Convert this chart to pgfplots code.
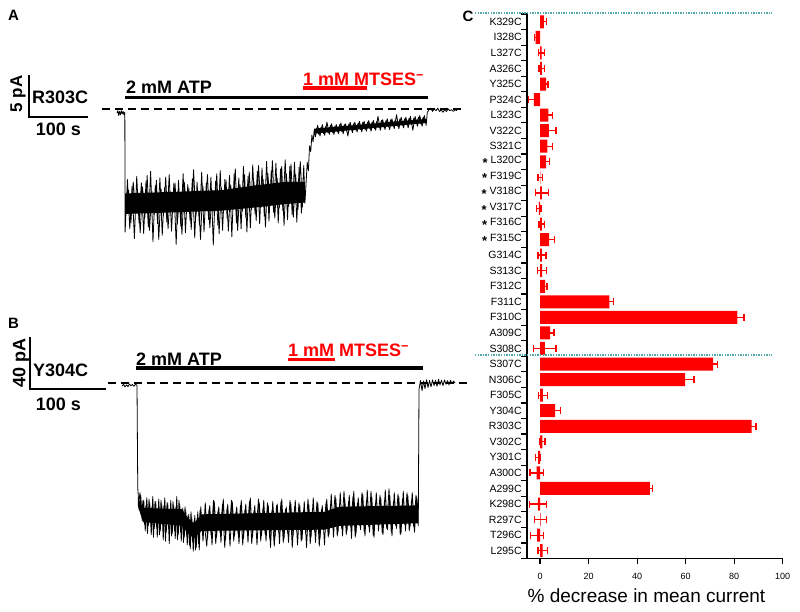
\documentclass[border=0pt]{standalone}
\usepackage{fontspec}
\setmainfont{Liberation Sans}
\usepackage{pgfplots}
\pgfplotsset{compat=1.18}
\usepackage{pgfplotstable}
\definecolor{tealdot}{RGB}{80,170,170}
\definecolor{pred}{RGB}{255,0,0}

% panel C data: pos (0 = bottom row L295C ... 34 = top row K329C), mean % decrease, error
\pgfplotstableread{
pos val err
34 1.6 1.1
33 -1.8 0.4
32 0.6 1.3
31 0.7 1.1
30 2.5 0.8
29 -2.5 2.3
28 3.4 1.6
27 3.6 3.0
26 3.0 2.2
25 2.5 1.4
24 0.1 1.0
23 0.75 2.7
22 -0.5 0.9
21 0.7 1.1
20 3.7 2.2
19 0.8 1.6
18 0.9 1.85
17 2.1 0.8
16 28.6 1.7
15 81.3 2.8
14 4.1 1.6
13 2.0 4.6
12 71.3 1.7
11 59.8 3.7
10 1.2 1.8
9 6.2 2.2
8 87.2 1.8
7 1.0 1.0
6 -0.8 1.1
5 -1.4 2.7
4 45.3 1.1
3 -0.9 3.5
2 0.2 2.5
1 -1.2 2.6
0 1.1 1.9
}\barsC

\newcommand{\lab}{\fontsize{18}{20}\selectfont\bfseries}
\newcommand{\pan}{\fontsize{15}{17}\selectfont\bfseries}
\newcommand{\sig}{{\fontsize{13}{13}\selectfont\bfseries\raisebox{-3.8pt}{*}}\hspace{3pt}}

\begin{document}
\begin{tikzpicture}[x=1pt,y=1pt]
\useasboundingbox (0,0) rectangle (800,611);

%================ Panel A (time in s, current in pA) ================
\begin{axis}[at={(0pt,351pt)}, anchor=south west, scale only axis,
  width=470pt, height=260pt, xmin=-201.72, xmax=608.62, ymin=-18.415, ymax=13.293,
  hide axis, clip=false]
\addplot[black, line width=1.5pt, dash pattern=on 8pt off 5pt] coordinates {(-25.9,0) (600,0)};
\addplot[black, line width=2.2pt, line cap=rect] coordinates {(-151.2,4.02) (-151.2,-0.98) (-51.2,-0.98)};
\addplot[black, line width=3.3pt] coordinates {(13.8,1.38) (536,1.38)};
\addplot[pred, line width=3.3pt] coordinates {(320.7,2.56) (431,2.56)};
\addplot[fill=black, draw=none] coordinates {(14,-10.3) (100,-10.1) (180,-9.9) (240,-9.3) (290,-8.9) (324,-8.9)
  (324,-11.4) (290,-11.6) (240,-12.0) (180,-12.4) (100,-12.6) (14,-12.8)} -- cycle;
\addplot[fill=black, draw=none] coordinates {(340,-2.4) (534,-1.2) (534,-1.7) (340,-3.0)} -- cycle;
\addplot[black, line width=0.8pt, line join=round] coordinates {
(0,-0.5) (1.5,-0.2) (3,-0.8) (4.5,-0.3) (6,-0.7) (7.5,-0.2) (9,-0.6) (10.5,-0.3) (12,-0.7) (13.5,-0.4)
(14,-15.0) (18,-8.6) (22,-14.6) (26,-9.4) (30,-15.8) (34,-8.2) (38,-13.9) (42,-9.0) (46,-15.2) (50,-8.8)
(54,-14.4) (58,-7.6) (62,-16.2) (66,-9.3) (70,-14.0) (74,-8.4) (78,-15.4) (82,-9.6) (86,-13.8) (90,-8.0)
(94,-14.9) (98,-9.1) (102,-16.5) (106,-8.7) (110,-14.3) (114,-7.9) (118,-15.1) (122,-9.2) (126,-13.6) (130,-8.5)
(134,-15.7) (138,-8.9) (142,-14.1) (146,-7.7) (150,-15.0) (154,-9.0) (158,-13.5) (162,-8.3) (166,-16.6) (170,-8.8)
(174,-14.2) (178,-7.5) (182,-14.8) (186,-8.6) (190,-13.4) (194,-8.1) (198,-15.6) (202,-7.9) (206,-13.9) (210,-8.4)
(214,-14.6) (218,-7.0) (222,-13.2) (226,-8.2) (230,-14.5) (234,-6.8) (238,-12.8) (242,-7.6) (246,-14.0) (250,-7.2)
(254,-13.1) (258,-6.4) (262,-13.7) (266,-7.5) (270,-12.6) (274,-6.6) (278,-13.9) (282,-7.3) (286,-12.4) (290,-6.2)
(294,-13.5) (298,-7.0) (302,-12.9) (306,-6.5) (310,-13.8) (314,-7.1) (318,-12.7) (322,-6.9) (324,-11.5)
(326,-9.0) (328,-6.5) (330,-7.5) (332,-4.5) (334,-5.2) (336,-3.2) (338,-4.0) (340,-2.6)
(342,-3.4) (346,-2.0) (350,-3.3) (354,-1.9) (358,-3.2) (362,-1.6) (366,-3.1) (370,-1.8) (374,-3.1) (378,-1.9)
(382,-3.0) (386,-1.7) (390,-3.0) (394,-1.8) (398,-3.3) (402,-1.6) (406,-2.9) (410,-1.6) (414,-2.8) (418,-1.5)
(422,-2.8) (426,-1.5) (430,-2.7) (434,-1.4) (438,-2.7) (442,-1.4) (446,-2.6) (450,-0.9) (454,-2.6) (458,-1.3)
(462,-2.5) (466,-1.2) (470,-2.5) (474,-1.2) (478,-2.4) (482,-0.7) (486,-2.4) (490,-1.0) (494,-2.3) (498,-1.0)
(502,-2.3) (506,-0.9) (510,-2.6) (514,-0.9) (518,-2.1) (522,-0.8) (526,-2.1) (530,-0.8) (533,-2.0)
(535,-0.4) (538,-0.1) (541,0.1) (544,-0.3) (547,0.0) (550,-0.2) (553,0.1) (556,-0.3) (559,-0.1) (562,-0.4)
(565,-0.1) (568,-0.3) (571,0.0) (574,-0.2) (577,-0.1) (580,-0.3) (583,-0.1) (586,-0.2)
};
\addplot[black, line width=0.8pt, line join=round] coordinates {
(16,-12.8) (20,-9.9) (24,-13.9) (28,-8.9) (32,-12.5) (36,-10.2) (40,-15.1) (44,-9.5) (48,-13.2) (52,-8.1)
(56,-14.8) (60,-10.0) (64,-12.9) (68,-8.7) (72,-15.9) (76,-9.8) (80,-13.0) (84,-8.3) (88,-14.6) (92,-10.1)
(96,-12.7) (100,-9.0) (104,-14.0) (108,-10.3) (112,-15.3) (116,-8.9) (120,-12.4) (124,-9.7) (128,-14.7) (132,-7.4)
(136,-13.1) (140,-10.0) (144,-15.9) (148,-9.4) (152,-12.2) (156,-8.0) (160,-14.5) (164,-9.9) (168,-13.0) (172,-7.9)
(176,-15.2) (180,-9.6) (184,-12.1) (188,-8.7) (192,-14.9) (196,-9.3) (200,-12.0) (204,-7.3) (208,-14.8) (212,-9.2)
(216,-12.5) (220,-8.0) (224,-15.0) (228,-7.7) (232,-12.3) (236,-8.9) (240,-13.6) (244,-6.9) (248,-12.0) (252,-8.6)
(256,-14.4) (260,-7.8) (264,-11.8) (268,-6.3) (272,-13.3) (276,-8.4) (280,-12.0) (284,-7.0) (288,-14.2) (292,-7.9)
(296,-11.9) (300,-6.7) (304,-13.2) (308,-8.0) (312,-12.3) (316,-6.4) (320,-12.0)
};
\addplot[black, line width=0.8pt, line join=round] coordinates {
(344,-2.3) (348,-3.1) (352,-2.2) (356,-3.0) (360,-2.1) (364,-2.9) (368,-2.0) (372,-2.9) (376,-2.1) (380,-2.8)
(384,-1.9) (388,-2.8) (392,-1.9) (396,-2.7) (400,-1.8) (404,-2.6) (408,-1.8) (412,-2.6) (416,-1.7) (420,-2.5)
(424,-1.6) (428,-2.5) (432,-1.6) (436,-2.4) (440,-1.6) (444,-2.4) (448,-1.5) (452,-2.3) (456,-1.4) (460,-2.2)
(464,-1.4) (468,-2.2) (472,-1.3) (476,-2.1) (480,-1.3) (484,-2.1) (488,-1.2) (492,-2.0) (496,-1.2) (500,-1.9)
(504,-1.1) (508,-1.9) (512,-1.1) (516,-1.8) (520,-1.0) (524,-1.8) (528,-1.0) (532,-1.7)
};
\end{axis}

%================ Panel B (time in s, current in pA) ================
\begin{axis}[at={(0pt,31pt)}, anchor=south west, scale only axis,
  width=470pt, height=290pt, xmin=-162.67, xmax=464, ymin=-154.5, ymax=72.94,
  hide axis, clip=false]
\addplot[black, line width=1.5pt, dash pattern=on 8pt off 5pt] coordinates {(-18.7,0) (460,0)};
\addplot[black, line width=2.2pt, line cap=rect] coordinates {(-122.7,35.3) (-122.7,-4.7) (-22.7,-4.7)};
\addplot[black, line width=3.3pt] coordinates {(18.7,11.76) (401.3,11.76)};
\addplot[pred, line width=3.3pt] coordinates {(221.3,18.4) (284,18.4)};
\addplot[fill=black, draw=none] coordinates {(21,-90) (28,-98) (80,-99) (88,-106) (96,-110) (106,-103) (270,-101) (290,-97) (395,-96)
  (395,-110) (290,-112) (270,-115) (106,-116) (96,-122) (88,-118) (80,-112) (28,-109) (21,-96)} -- cycle;
\addplot[black, line width=0.8pt, line join=round] coordinates {
(0,-2.5) (2,-1.0) (4,-3.0) (6,-1.5) (8,-2.8) (10,-0.8) (12,-2.2) (14,-1.2) (16,-2.6) (18,-1.0) (20,-1.8)
(21,-82) (23,-100) (25,-88) (27,-108) (29,-92) (31,-116) (33,-90) (35,-112) (37,-94) (39,-119)
(41,-89) (43,-114) (45,-93) (47,-121) (49,-91) (51,-116) (53,-95) (55,-123) (57,-90) (59,-117)
(61,-94) (63,-126) (65,-92) (67,-118) (69,-96) (71,-122) (73,-89) (75,-119) (77,-95) (79,-124)
(81,-98) (83,-121) (85,-100) (87,-127) (89,-103) (91,-130) (93,-105) (95,-132) (97,-104) (99,-129)
(101,-101) (103,-131) (105,-97) (108,-124) (111,-94) (114,-122) (117,-96) (120,-127) (123,-93) (126,-121)
(129,-97) (132,-125) (135,-91) (138,-123) (141,-95) (144,-128) (147,-93) (150,-120) (153,-97) (156,-126)
(159,-92) (162,-122) (165,-95) (168,-125) (171,-90) (174,-121) (177,-96) (180,-127) (183,-94) (186,-120)
(189,-92) (192,-124) (195,-96) (198,-129) (201,-93) (204,-121) (207,-95) (210,-126) (213,-91) (216,-122)
(219,-97) (222,-125) (225,-94) (228,-120) (231,-92) (234,-127) (237,-96) (240,-123) (243,-93) (246,-129)
(249,-95) (252,-121) (255,-90) (258,-125) (261,-94) (264,-122) (267,-96) (270,-127) (273,-91) (276,-119)
(279,-87) (282,-121) (285,-90) (288,-117) (291,-86) (294,-120) (297,-91) (300,-116) (303,-88) (306,-122)
(309,-85) (312,-118) (315,-90) (318,-115) (321,-87) (324,-120) (327,-84) (330,-117) (333,-89) (336,-121)
(339,-86) (342,-116) (345,-90) (348,-119) (351,-84) (354,-115) (357,-88) (360,-120) (363,-86) (366,-114)
(369,-89) (372,-118) (375,-85) (378,-116) (381,-88) (384,-113) (387,-86) (390,-117) (393,-89) (395,-112)
(396,-5) (398,2) (400,-6) (402,1.5) (404,-4.5) (406,2.5) (408,-3.5) (410,2) (412,-3) (414,2.5)
(416,-2) (418,2.2) (420,-2.5) (422,2.8) (424,-1.5) (426,2) (428,-2) (430,2.4) (432,-1) (434,1.8)
(436,-1.5) (438,2) (440,-0.5) (442,1.5) (444,0)
};
\addplot[black, line width=0.8pt, line join=round] coordinates {
(22,-95) (24,-86) (26,-104) (28,-92) (30,-111) (32,-96) (34,-118) (36,-91) (38,-110) (40,-97)
(42,-121) (44,-93) (46,-113) (48,-98) (50,-119) (52,-92) (54,-111) (56,-96) (58,-124) (60,-94)
(62,-114) (64,-99) (66,-120) (68,-93) (70,-116) (72,-97) (74,-123) (76,-92) (78,-117) (80,-99)
(82,-125) (84,-97) (86,-119) (88,-104) (90,-127) (92,-101) (94,-124) (96,-108) (98,-131) (100,-106)
(102,-126) (104,-100) (107,-112) (110,-112) (113,-128) (116,-99) (119,-120) (122,-92) (125,-126) (128,-100)
(131,-118) (134,-95) (137,-129) (140,-98) (143,-116) (146,-92) (149,-124) (152,-101) (155,-119) (158,-96)
(161,-127) (164,-99) (167,-117) (170,-93) (173,-126) (176,-100) (179,-115) (182,-91) (185,-124) (188,-98)
(191,-119) (194,-94) (197,-122) (200,-100) (203,-128) (206,-96) (209,-117) (212,-93) (215,-125) (218,-99)
(221,-118) (224,-92) (227,-129) (230,-97) (233,-116) (236,-94) (239,-124) (242,-100) (245,-118) (248,-91)
(251,-126) (254,-98) (257,-117) (260,-93) (263,-128) (266,-99) (269,-115) (272,-94) (275,-121) (278,-95)
(281,-112) (284,-88) (287,-120) (290,-96) (293,-114) (296,-85) (299,-119) (302,-93) (305,-113) (308,-89)
(311,-121) (314,-94) (317,-112) (320,-86) (323,-117) (326,-92) (329,-113) (332,-85) (335,-120) (338,-94)
(341,-111) (344,-88) (347,-118) (350,-92) (353,-114) (356,-83) (359,-117) (362,-93) (365,-112) (368,-87)
(371,-119) (374,-91) (377,-111) (380,-86) (383,-116) (386,-92) (389,-113) (392,-88)
};
\end{axis}

%================ Panel C ================
\begin{axis}[at={(526.7pt,52.5pt)}, anchor=south west, scale only axis,
  width=256pt, height=544.5pt,
  xmin=-5.5, xmax=100, ymin=-0.5, ymax=34.5,
  axis x line*=bottom, axis y line*=left,
  axis line style={line width=1.8pt, black},
  xtick={0,20,...,100}, minor xtick={0,20,...,100},
  ytick={0,...,34}, minor ytick={-0.5,0.5,...,34.5},
  yticklabels={L295C,T296C,R297C,K298C,A299C,A300C,Y301C,V302C,R303C,Y304C,F305C,N306C,S307C,S308C,A309C,F310C,F311C,F312C,S313C,G314C,
    {\sig F315C},{\sig F316C},{\sig V317C},{\sig V318C},{\sig F319C},{\sig L320C},
    S321C,V322C,L323C,P324C,Y325C,A326C,L327C,I328C,K329C},
  major tick length=0pt, minor tick length=5.5pt, tick align=outside,
  tick style={line width=1.2pt, black},
  xticklabel style={font=\fontsize{9}{10}\selectfont, yshift=-11pt, /pgf/number format/assume math mode=true},
  yticklabel style={font=\fontsize{10.5}{12}\selectfont, xshift=-1.5pt},
  clip=false]
\addplot[xbar, bar width=13pt, bar shift=0pt, fill=pred, draw=none,
  error bars/.cd, x dir=both, x explicit,
  error bar style={line width=1.3pt, pred},
  error mark options={line width=1.3pt, pred, mark size=3.5pt, rotate=90}]
  table[x=val, y=pos, x error=err] {\barsC};
\end{axis}

\draw[tealdot, line width=1.6pt, dash pattern=on 1.3pt off 1.3pt] (475,597.7) -- (772,597.7);
\draw[tealdot, line width=1.6pt, dash pattern=on 1.3pt off 1.3pt] (475,256) -- (772,256);

\node[font=\pan] at (13.5,595.5) {A};
\node[font=\pan] at (13.5,288) {B};
\node[font=\pan] at (468,595) {C};

\node[font=\fontsize{17}{18}\selectfont\bfseries, rotate=90] at (18,517) {5 pA};
\node[font=\lab, anchor=west, inner sep=0pt] at (32,513.5) {R303C};
\node[font=\lab] at (58.5,481.5) {100 s};
\node[font=\lab, anchor=base west, inner sep=0pt] at (126,517) {2 mM ATP};
\node[font=\lab, anchor=base west, inner sep=0pt, text=pred] at (303,525) {1 mM MTSES\textsuperscript{−}};

\node[font=\lab, rotate=90] at (21,248.5) {40 pA};
\node[font=\lab, anchor=west, inner sep=0pt] at (33,241) {Y304C};
\node[font=\lab] at (58.5,207) {100 s};
\node[font=\lab, anchor=base west, inner sep=0pt] at (136,246) {2 mM ATP};
\node[font=\lab, anchor=base west, inner sep=0pt, text=pred] at (288,254.5) {1 mM MTSES\textsuperscript{−}};

\node[font=\fontsize{19}{20}\selectfont, anchor=base] at (646.5,9) {\% decrease in mean current};
\end{tikzpicture}
\end{document}
